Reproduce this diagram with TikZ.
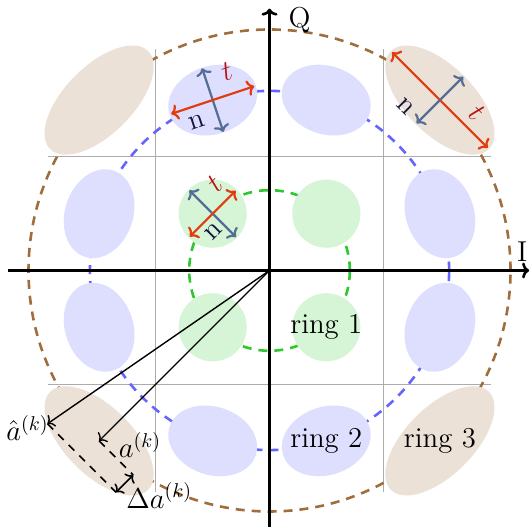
\documentclass[tikz,border=0pt]{standalone}
\usetikzlibrary{arrows.meta}
\definecolor{bluefill}{RGB}{222,222,255}
\definecolor{greenfill}{RGB}{214,244,214}
\definecolor{brownfill}{RGB}{235,225,214}
\definecolor{ringone}{RGB}{45,200,45}
\definecolor{ringtwo}{RGB}{100,100,255}
\definecolor{ringthree}{RGB}{160,110,60}
\definecolor{tred}{RGB}{225,60,15}
\definecolor{nsteel}{RGB}{85,110,150}
\definecolor{tlabel}{RGB}{180,20,20}
\definecolor{nlabel}{RGB}{20,20,60}
\begin{document}
\begin{tikzpicture}[
  gridline/.style={gray!65, line width=0.5pt},
  ringdash/.style={line width=1.3pt, dash pattern=on 4.5pt off 3.5pt},
  axisline/.style={line width=1.3pt, -{Computer Modern Rightarrow[length=3.5pt,width=8pt]}},
  tarrow/.style={{Computer Modern Rightarrow[length=3.5pt,width=8pt]}-{Computer Modern Rightarrow[length=3.5pt,width=8pt]}, line width=1.1pt, draw=tred},
  narrow/.style={{Computer Modern Rightarrow[length=3.5pt,width=8pt]}-{Computer Modern Rightarrow[length=3.5pt,width=8pt]}, line width=1.1pt, draw=nsteel},
  tlab/.style={text=tlabel, font=\Large, inner sep=0pt},
  nlab/.style={text=nlabel, font=\Large, inner sep=0pt},
  ptr/.style={line width=0.7pt, -{Computer Modern Rightarrow[length=3pt,width=7pt]}},
  errdash/.style={line width=0.8pt, dash pattern=on 4pt off 3.5pt},
  errarrow/.style={line width=0.8pt, {Computer Modern Rightarrow[length=3pt,width=7pt]}-{Computer Modern Rightarrow[length=3pt,width=7pt]}},
  lab/.style={font=\Large, inner sep=0pt}
]
\useasboundingbox (-4.745,-4.516) rectangle (4.586,4.762);
\coordinate (O) at (0,0);

% grid
\foreach \v in {-2,2} {
  \draw[gridline] (\v,-3.9) -- (\v,3.9);
  \draw[gridline] (-3.9,\v) -- (3.9,\v);
}

% rings
\draw[ringdash, ringthree] (O) circle (4.243);
\draw[ringdash, ringtwo] (O) circle (3.162);
\draw[ringdash, ringone] (O) circle (1.414);

% ring 1 points
\foreach \x/\y in {1/1,-1/1,-1/-1,1/-1}
  \fill[greenfill] (\x,\y) circle (0.6);
% ring 2 points
\foreach \x/\y/\r in {1/3/-18.43,-1/3/18.43,-3/1/71.57,-3/-1/108.43,-1/-3/161.57,1/-3/198.43,3/-1/-108.43,3/1/-71.57}
  \fill[bluefill, rotate around={\r:(\x,\y)}] (\x,\y) ellipse [x radius=0.8, y radius=0.6];
% ring 3 points
\foreach \x/\y/\r in {3/3/-45,-3/3/45,-3/-3/135,3/-3/45}
  \fill[brownfill, rotate around={\r:(\x,\y)}] (\x,\y) ellipse [x radius=1.22, y radius=0.6];

% t/n arrows, ring 1
\begin{scope}[shift={(-1,1)}, rotate=45]
  \coordinate (g1) at (-0.57,0); \coordinate (g2) at (0.57,0);
  \coordinate (g3) at (0,-0.58); \coordinate (g4) at (0,0.58);
  \draw[narrow] (g4) -- (g3);
  \draw[tarrow] (g1) -- (g2);
\end{scope}
\node[tlab, rotate=45] (gt) at (-0.965,1.52) {$t$};
\node[nlab, rotate=45] (gn) at (-0.98,0.69) {n};

% t/n arrows, ring 2
\begin{scope}[shift={(-1,3)}, rotate=18.43]
  \coordinate (b1) at (-0.77,0); \coordinate (b2) at (0.77,0);
  \coordinate (b3) at (0,-0.59); \coordinate (b4) at (0,0.59);
  \draw[narrow] (b4) -- (b3);
  \draw[tarrow] (b1) -- (b2);
\end{scope}
\node[tlab, rotate=18.43] (bt) at (-0.75,3.51) {$t$};
\node[nlab, rotate=18.43] (bn) at (-1.276,2.62) {n};

% t/n arrows, ring 3
\begin{scope}[shift={(3,3)}, rotate=-45]
  \coordinate (r1) at (-1.19,0); \coordinate (r2) at (1.19,0);
  \coordinate (r3) at (0,-0.58); \coordinate (r4) at (0,0.58);
  \draw[tarrow] (r1) -- (r2);
  \draw[narrow] (r4) -- (r3);
\end{scope}
\node[tlab, rotate=-45] (rt) at (3.65,2.77) {$t$};
\node[nlab, rotate=-45] (rn) at (2.40,2.89) {n};

% axes
\coordinate (xl) at (-4.6,0); \coordinate (xr) at (4.57,0);
\coordinate (yb) at (0,-4.6); \coordinate (yt) at (0,4.61);
\draw[axisline] (xl) -- (xr);
\draw[axisline] (yb) -- (yt);
\node[lab] (Q) at (0.53,4.40) {Q};
\node[lab] (I) at (4.45,0.33) {I};

% ring labels
\node[lab] (ring1) at (1,-1) {ring 1};
\node[lab] (ring2) at (1,-3) {ring 2};
\node[lab] (ring3) at (3,-3) {ring 3};

% error vectors
\coordinate (ahat) at (-3.909,-2.699);
\coordinate (a) at (-3,-3);
\coordinate (P1) at (-2.703,-3.905);
\coordinate (P2) at (-2.40,-3.60);
\draw[ptr] (O) -- (ahat);
\draw[ptr] (O) -- (a);
\draw[errdash] (ahat) -- (P1);
\draw[errdash] (a) -- (P2);
\draw[errarrow] (P1) -- (P2);
\node[lab] (ahatlab) at (-4.26,-2.77) {$\hat a^{(k)}$};
\node[lab] (alab) at (-2.28,-3.07) {$a^{(k)}$};
\node[lab] (dalab) at (-1.94,-3.96) {$\Delta a^{(k)}$};
\end{tikzpicture}
\end{document}
